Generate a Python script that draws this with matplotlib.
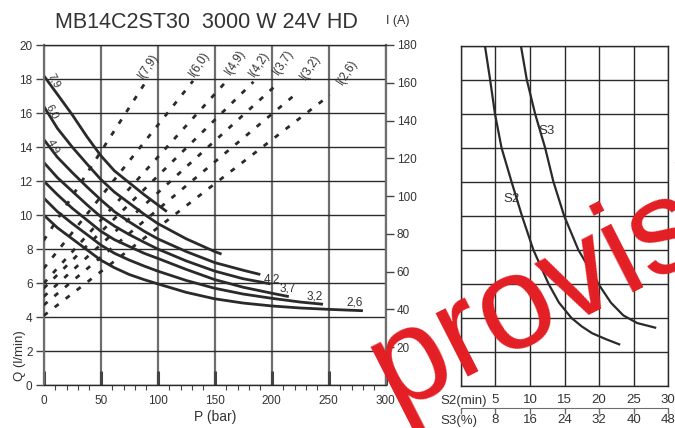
import numpy as np
import matplotlib.pyplot as plt

plt.rcParams['font.family'] = ['Liberation Sans', 'DejaVu Sans']

W, H = 675, 428

# Q-P curves, one per displacement (cc)
p_79 = [0, 12, 25, 38, 50, 62, 75, 88, 100, 108]
q_79 = [18.2, 17.1, 15.9, 14.6, 13.5, 12.6, 11.9, 11.2, 10.6, 10.2]
p_60 = [0, 12, 25, 38, 50, 62, 75, 88, 100, 125, 150, 156]
q_60 = [16.4, 15.1, 14.0, 13.0, 12.1, 11.35, 10.7, 10.05, 9.5, 8.6, 7.85, 7.7]
p_49 = [0, 12, 25, 38, 50, 62, 75, 88, 100, 125, 150, 175, 190]
q_49 = [14.45, 13.4, 12.5, 11.65, 10.9, 10.2, 9.6, 9.05, 8.6, 7.85, 7.2, 6.75, 6.5]
p_42 = [0, 12, 25, 38, 50, 62, 75, 88, 100, 125, 150, 175, 199]
q_42 = [13.1, 12.2, 11.4, 10.6, 9.9, 9.35, 8.85, 8.4, 8.0, 7.3, 6.7, 6.25, 5.95]
p_37 = [0, 12, 25, 38, 50, 62, 75, 88, 100, 125, 150, 175, 200, 215]
q_37 = [12.0, 11.2, 10.4, 9.7, 9.05, 8.55, 8.15, 7.75, 7.45, 6.8, 6.2, 5.75, 5.4, 5.2]
p_32 = [0, 12, 25, 38, 50, 62, 75, 88, 100, 125, 150, 175, 200, 225, 245]
q_32 = [11.0, 10.2, 9.5, 8.85, 8.24, 7.75, 7.35, 7.0, 6.7, 6.15, 5.69, 5.35, 5.1, 4.88, 4.75]
p_26 = [0, 12, 25, 38, 50, 62, 75, 88, 100, 125, 150, 175, 200, 225, 250, 280]
q_26 = [10.0, 9.25, 8.6, 7.95, 7.35, 6.9, 6.5, 6.2, 5.95, 5.45, 5.07, 4.82, 4.65, 4.53, 4.45, 4.37]

disp = ['7,9', '6,0', '4,9', '4,2', '3,7', '3,2', '2,6']

# current lines I(P): start at P=0, end point
i_start = [76.5, 61.7, 53.8, 51.2, 46.8, 42.3, 36.7]
p_end = [89, 131, 159, 184, 207, 223, 251]
i_end = [160, 161, 160, 160.5, 160.5, 155, 153.5]

# duty curves, right panel (x on S2 scale, y = Q)
s2_x = [3.5, 4.25, 4.95, 5.9, 7.35, 8.85, 10.5, 12.7, 14.2, 16.0, 17.5, 19.0, 21.0, 22.9]
s2_q = [20, 18, 16, 14, 12, 10, 8, 6, 4.9, 4.0, 3.5, 3.1, 2.75, 2.45]
s3_x = [8.7, 9.55, 10.75, 12.2, 13.4, 14.95, 17.0, 19.9, 21.7, 23.5, 25.5, 28.1]
s3_q = [20, 18, 16, 14, 12, 10, 8, 6, 4.9, 4.15, 3.7, 3.43]

s2_ticks = [0, 5, 10, 15, 20, 25, 30]
s3_ticks = [0, 8, 16, 24, 32, 40, 48]

dark = '#2a2a2a'
grey = '#6e6e6e'
txt = '#333333'

fig = plt.figure(figsize=(W / 100, H / 100), dpi=100)

# ---- left panel
ax = fig.add_axes([43.7 / W, 1 - 385 / H, 342 / W, 340 / H])
ax.set_xlim(0, 300)
ax.set_ylim(0, 20)
ax.set_xticks(range(0, 301, 50))
ax.set_xticks(range(0, 301, 10), minor=True)
ax.set_yticks(range(0, 21, 2))
ax.grid(axis='x', color=grey, lw=1.6)
ax.grid(axis='y', color=dark, lw=1.0)
ax.set_axisbelow(True)
for s in ['left', 'right']:
    ax.spines[s].set_color(grey)
    ax.spines[s].set_linewidth(1.6)
for s in ['top', 'bottom']:
    ax.spines[s].set_color(dark)
    ax.spines[s].set_linewidth(1.0)
ax.tick_params(axis='x', which='major', direction='in', length=10, width=2.2,
               color='#444', pad=7, labelsize=8.5, labelcolor=txt)
ax.tick_params(axis='x', which='minor', direction='out', length=3.5, width=0.8, color='#444')
ax.tick_params(axis='y', direction='out', length=6, width=1.0, color='#444',
               pad=2, labelsize=8.5, labelcolor=txt)

curves = [(p_79, q_79), (p_60, q_60), (p_49, q_49), (p_42, q_42),
          (p_37, q_37), (p_32, q_32), (p_26, q_26)]
for p, q in curves:
    ax.plot(p, q, color=dark, lw=2.0, solid_capstyle='butt', solid_joinstyle='round')

# labels at start of top curves
for lab, (px, qy) in zip(disp[:3], [(9, 17.9), (7.5, 16.1), (8.2, 14.05)]):
    ax.text(px, qy, lab, rotation=-62, ha='center', va='center', fontsize=8, color=txt)
# labels at end of lower curves
for lab, (px, qy) in zip(disp[3:], [(200, 6.2), (214, 5.65), (238, 5.18), (273, 4.88)]):
    ax.text(px, qy, lab, ha='center', va='center', fontsize=8.5, color=txt)

# current axis
axI = ax.twinx()
axI.set_ylim(0, 180)
axI.set_yticks(range(20, 181, 20))
for s in axI.spines.values():
    s.set_visible(False)
axI.tick_params(axis='y', direction='out', length=6, width=1.0, color='#444',
                pad=2, labelsize=8.5, labelcolor=txt)
for i0, pe, ie in zip(i_start, p_end, i_end):
    axI.plot([0, pe], [i0, ie], color=dark, lw=2.0, linestyle=(0, (1.8, 3.2)))
i_lab_pos = [(92, 169), (137, 170), (168, 171), (189, 170), (210, 171), (234, 168), (266, 165.5)]
for lab, (px, iy) in zip(disp, i_lab_pos):
    axI.text(px, iy, 'I(' + lab + ')', rotation=57, ha='center', va='center',
             fontsize=8.5, color=txt)

# ---- right panel
ax3 = fig.add_axes([460.7 / W, 1 - 386 / H, 207.6 / W, 340.3 / H])
ax3.set_xlim(0, 30)
ax3.set_ylim(0, 20)
ax3.set_xticks(s2_ticks)
ax3.set_xticklabels([''] + [str(v) for v in s2_ticks[1:]])
ax3.set_yticks(range(0, 21, 2))
ax3.set_yticklabels([])
ax3.grid(color=dark, lw=1.0)
ax3.set_axisbelow(True)
for s in ax3.spines.values():
    s.set_color(dark)
    s.set_linewidth(1.0)
ax3.tick_params(length=0, pad=6, labelsize=9.5, labelcolor=txt)
ax3.plot(s2_x, s2_q, color=dark, lw=1.6)
ax3.plot(s3_x, s3_q, color=dark, lw=1.6)
ax3.text(7.4, 11.0, 'S2', ha='center', va='center', fontsize=9.5, color=txt)
ax3.text(12.4, 15.0, 'S3', ha='center', va='center', fontsize=9.5, color=txt)

sec = ax3.secondary_xaxis(-22 / 340.3, functions=(lambda s: s * 1.6, lambda s: s / 1.6))
sec.set_xticks(s3_ticks)
sec.set_xticklabels([''] + [str(v) for v in s3_ticks[1:]])
sec.spines['bottom'].set_color(grey)
sec.tick_params(direction='out', length=4, width=1.0, color=grey, pad=0.5,
                labelsize=9.5, labelcolor=txt)

# ---- texts
fig.text(206 / W, 1 - 23 / H, 'MB14C2ST30  3000 W 24V HD', ha='center', va='center',
         fontsize=15.5, color=txt)
fig.text(398 / W, 1 - 21 / H, 'I (A)', ha='center', va='center', fontsize=9, color=txt)
fig.text(215 / W, 1 - 417 / H, 'P (bar)', ha='center', va='center', fontsize=10, color=txt)
fig.text(20 / W, 1 - 356 / H, 'Q (l/min)', rotation=90, ha='center', va='center',
         fontsize=9.5, color=txt)
fig.text(440 / W, 1 - 401 / H, 'S2(min)', ha='left', va='center', fontsize=9.5, color=txt)
fig.text(440 / W, 1 - 421 / H, 'S3(%)', ha='left', va='center', fontsize=9.5, color=txt)

# watermark
fig.text(394 / W, 1 - 410 / H, 'provisional', rotation=27, rotation_mode='anchor',
         ha='left', va='baseline', fontsize=96, color='#e31e24', zorder=100)

fig.savefig('out.png', dpi=100)
